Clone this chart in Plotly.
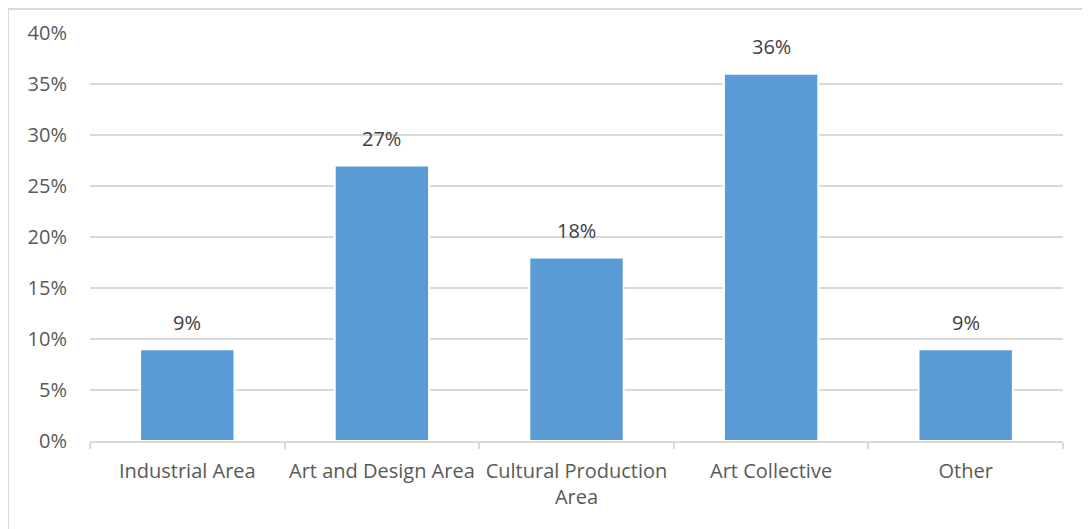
import plotly.graph_objects as go

categories = ["Industrial Area", "Art and Design Area", "Cultural Production<br>Area", "Art Collective", "Other"]
values = [9, 27, 18, 36, 9]
y_ticks = [0, 5, 10, 15, 20, 25, 30, 35, 40]

FONT = "Open Sans"
fig = go.Figure()
fig.add_trace(go.Bar(
    x=categories, y=values,
    marker=dict(color="#5B9BD5", line=dict(color="white", width=2)),
    hoverinfo="skip",
))
for c, v in zip(categories, values):
    fig.add_annotation(x=c, y=v, text=f"{v}%", showarrow=False, yshift=27,
                       font=dict(family=FONT, size=20, color="#404040"))

fig.add_shape(type="rect", xref="paper", yref="paper",
              x0=-0.0843, x1=1.04, y0=-0.25, y1=1.0588,
              line=dict(color="#d9d9d9", width=2), layer="below")

fig.update_layout(
    width=1090, height=529,
    margin=dict(l=82, r=35, t=25, b=96),
    paper_bgcolor="white", plot_bgcolor="white",
    bargap=0.515, showlegend=False,
    font=dict(family=FONT, size=20, color="#595959"),
)
fig.update_xaxes(
    type="category", tickson="boundaries", ticks="outside", ticklen=6,
    tickcolor="#d9d9d9", tickwidth=1.5,
    showline=True, linecolor="#d9d9d9", linewidth=1.5,
    showgrid=False, ticklabelstandoff=11, tickangle=0,
)
fig.update_yaxes(
    range=[0, 40], tickvals=y_ticks, ticktext=[f"{t}%" for t in y_ticks],
    showgrid=True, gridcolor="#d9d9d9", gridwidth=1.5,
    zeroline=False, showline=False, ticks="", ticklabelstandoff=22,
)
fig.write_html("out.html")
